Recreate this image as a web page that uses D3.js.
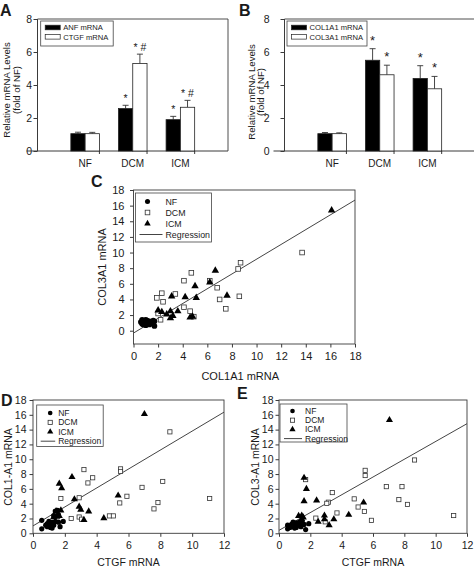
<!DOCTYPE html>
<html><head><meta charset="utf-8">
<script src="https://cdn.jsdelivr.net/npm/d3@7"></script>
<style>
body{margin:0;background:#fff}
svg{display:block}
text{font-family:"Liberation Sans",Arial,Helvetica,sans-serif;fill:#1a1a1a}
</style>
</head><body>
<svg id="chart" width="474" height="567"></svg>
<script>
// ---------- Bar chart data (panels A, B) ----------
const groups = ["NF", "DCM", "ICM"];
const barTicks = [0, 2, 4, 6, 8];
const anfVals = [1.05, 2.57, 1.9];
const anfErr = [0.09, 0.2, 0.2];
const ctgfVals = [1.05, 5.3, 2.65];
const ctgfErr = [0.08, 0.57, 0.42];
const col1Vals = [1.05, 5.5, 4.4];
const col1Err = [0.07, 0.7, 0.77];
const col3Vals = [1.05, 4.62, 3.77];
const col3Err = [0.05, 0.58, 0.75];
const annA1 = ["", "*", "*"];
const annA2 = ["", "* #", "* #"];
const annB1 = ["", "*", "*"];
const annB2 = ["", "*", "*"];

// ---------- Scatter data (panels C, D, E) ----------
const scatTicks18 = [0, 2, 4, 6, 8, 10, 12, 14, 16, 18];
const scatTicks12 = [0, 2, 4, 6, 8, 10, 12];
// C: COL1A1 (x) vs COL3A1 (y)
const cNF = [[0.6,1.1],[0.7,0.9],[0.8,1.2],[0.8,0.8],[0.9,1.0],[0.9,1.3],[1.0,0.7],[1.0,1.1],[1.1,0.9],[1.1,1.3],[1.2,1.0],[1.3,1.2],[1.3,0.8],[1.4,1.1],[1.5,1.0],[1.6,1.3],[1.7,1.2],[1.7,0.6],[0.7,1.4],[1.0,1.4]];
const cDCM = [[8.7,8.7],[8.5,7.9],[4.7,7.4],[4.1,6.4],[6.2,6.4],[6.8,5.5],[2.3,4.8],[3.4,4.7],[1.9,4.2],[2.4,3.7],[7.0,4.0],[8.6,4.4],[7.5,2.8],[4.1,3.0],[4.6,2.5],[4.9,1.8],[2.2,1.4],[2.0,2.2],[13.7,10.0]];
const cICM = [[6.65,7.7],[6.2,6.2],[5.0,5.7],[3.1,4.4],[4.2,4.3],[5.1,4.2],[7.6,4.5],[2.0,2.6],[2.3,2.4],[3.0,2.5],[3.6,2.5],[2.7,2.1],[3.2,1.9],[3.0,1.6],[4.6,1.7],[4.8,1.8],[16.1,15.4]];
const cReg = [-0.3, 0.945]; // intercept, slope
// D: CTGF (x) vs COL1A1 (y)
const dNF = [[0.55,1.75],[0.55,0.6],[0.8,1.1],[0.9,1.3],[0.9,0.9],[1.0,1.0],[1.0,1.6],[1.1,0.8],[1.1,1.2],[1.2,0.7],[1.2,1.5],[1.3,1.1],[1.4,1.6],[1.4,3.0],[1.55,3.1],[1.6,2.5],[1.6,1.5],[1.7,0.9],[1.9,1.6],[1.3,2.4]];
const dDCM = [[8.6,13.7],[3.2,8.6],[5.5,8.7],[5.5,8.35],[3.75,7.5],[3.45,6.8],[8.15,7.0],[6.85,6.2],[5.9,5.0],[1.75,4.7],[2.9,4.8],[5.45,4.1],[7.85,4.15],[7.6,3.3],[11.1,4.7],[2.4,2.0],[2.9,2.2],[3.05,1.9],[4.8,2.35],[5.05,2.35]];
const dICM = [[7.0,16.1],[2.45,7.6],[1.65,6.7],[1.8,6.1],[2.6,4.6],[5.35,5.1],[2.9,3.6],[3.0,3.2],[3.5,2.95],[1.45,3.0],[1.75,3.1],[1.5,2.25],[4.45,2.05],[3.2,1.8],[1.3,2.2],[1.65,2.35]];
const dReg = [1.0, 1.28];
// E: CTGF (x) vs COL3A1 (y)
const eNF = [[0.55,1.1],[0.55,0.6],[0.7,0.8],[0.8,1.2],[0.9,0.9],[1.0,1.3],[1.0,1.0],[1.1,1.4],[1.1,0.8],[1.2,1.1],[1.2,1.3],[1.3,1.2],[1.4,0.9],[1.5,1.4],[1.6,1.2],[1.7,0.5],[1.9,1.3],[0.9,1.5],[1.3,1.5],[1.0,0.7]];
const eDCM = [[8.65,9.9],[5.5,8.5],[5.5,7.8],[1.7,7.25],[3.4,5.5],[3.15,4.2],[3.05,4.05],[6.85,6.3],[7.85,6.3],[4.8,4.65],[7.65,4.55],[8.2,3.9],[5.05,3.55],[5.45,2.95],[3.7,2.75],[2.35,2.05],[2.95,1.55],[5.9,1.75],[11.15,2.4]];
const eICM = [[7.05,15.3],[1.6,7.5],[1.75,6.0],[1.6,4.35],[2.4,4.45],[5.4,4.15],[2.9,2.4],[2.9,1.9],[3.5,1.9],[4.45,2.5],[2.5,1.55],[3.2,1.1],[1.25,2.35],[1.45,2.4],[1.55,2.15],[1.45,1.95]];
const eReg = [0.4, 1.2];

const svg = d3.select("#chart");
const AX = "#3a3a3a";

// ---------- Bar panels ----------
function barPanel(cfg) {
  const g = svg.append("g");
  const x = d3.scaleLinear().domain([0, 4]).range([cfg.x0, cfg.x0 + 190.5]);
  const y = d3.scaleLinear().domain([0, 8]).range([151, 19]);
  const bw = 0.3;
  g.append("path").attr("d", `M${x(0)},${y(8)}H${x(4)}V${y(0)}`)
    .attr("fill", "none").attr("stroke", AX).attr("stroke-width", 0.9);
  const ya = g.append("g").attr("transform", `translate(${x(0)},0)`)
    .call(d3.axisLeft(y).tickValues(barTicks).tickSize(4).tickPadding(cfg.pad).tickFormat(d3.format("d")));
  ya.selectAll("path,line").attr("stroke", AX);
  ya.select(".domain").attr("d", `M0,${y(0)}V${y(8)}`);
  ya.selectAll("text").attr("font-size", 10.5).attr("font-family", "Liberation Sans, Arial");
  const xa = g.append("g").attr("transform", `translate(0,${y(0)})`);
  xa.append("line").attr("x1", x(0) - 11).attr("x2", x(4)).attr("stroke", AX);
  xa.selectAll("line.t").data(groups).join("line").attr("class", "t")
    .attr("x1", (d, i) => x(i + 1 + bw)).attr("x2", (d, i) => x(i + 1 + bw))
    .attr("y1", 0).attr("y2", 3).attr("stroke", AX);
  xa.selectAll("text").data(groups).join("text")
    .attr("x", (d, i) => x(i + 1)).attr("y", 16).attr("text-anchor", "middle")
    .attr("font-size", 10).text(d => d);
  const series = [
    {v: cfg.v1, e: cfg.e1, fill: "#000", off: -bw, ann: cfg.ann1},
    {v: cfg.v2, e: cfg.e2, fill: "#fff", off: 0, ann: cfg.ann2}
  ];
  series.forEach(s => {
    groups.forEach((gname, i) => {
      const cx = i + 1 + s.off + bw / 2;
      const top = s.v[i] + s.e[i];
      g.append("line").attr("x1", x(cx)).attr("x2", x(cx)).attr("y1", y(s.v[i])).attr("y2", y(top))
        .attr("stroke", "#333").attr("stroke-width", 0.9);
      g.append("line").attr("x1", x(cx) - 3).attr("x2", x(cx) + 3).attr("y1", y(top)).attr("y2", y(top))
        .attr("stroke", "#333").attr("stroke-width", 0.9);
      g.append("rect").attr("x", x(i + 1 + s.off)).attr("width", x(bw) - x(0))
        .attr("y", y(s.v[i])).attr("height", y(0) - y(s.v[i]))
        .attr("fill", s.fill).attr("stroke", "#222").attr("stroke-width", 0.8);
      if (s.ann[i]) {
        g.append("text").attr("x", x(cx)).attr("y", y(top) - cfg.annOff)
          .attr("text-anchor", "middle").attr("font-size", cfg.annSize).text(s.ann[i]);
      }
    });
  });
  const lg = g.append("g");
  lg.append("rect").attr("x", cfg.lx).attr("y", 21).attr("width", cfg.lw).attr("height", 25)
    .attr("fill", "#fff").attr("stroke", "#444").attr("stroke-width", 0.8);
  [[cfg.name1, "#000"], [cfg.name2, "#fff"]].forEach((it, k) => {
    const yy = 27.5 + k * 9.3;
    lg.append("rect").attr("x", cfg.lx + 4.5).attr("y", yy - 2.3).attr("width", 15).attr("height", 4.6)
      .attr("fill", it[1]).attr("stroke", "#222").attr("stroke-width", 0.7);
    lg.append("text").attr("x", cfg.lx + 22.5).attr("y", yy + 2.7).attr("font-size", 7.6).text(it[0]);
  });
  const yl = g.append("text").attr("transform", `translate(${cfg.ylx},${cfg.yly}) rotate(-90)`)
    .attr("text-anchor", "middle").attr("font-size", 9.6);
  yl.append("tspan").attr("x", 0).attr("y", 0).text("Relative mRNA Levels");
  yl.append("tspan").attr("x", 0).attr("y", 9.5).text("(fold of NF)");
  svg.append("text").attr("x", cfg.px).attr("y", 15.5).attr("font-size", 16).attr("font-weight", "bold").text(cfg.letter);
}

barPanel({x0: 37.5, pad: 1.5, v1: anfVals, e1: anfErr, v2: ctgfVals, e2: ctgfErr,
  ann1: annA1, ann2: annA2, annOff: 3, annSize: 10.5, lx: 40.7, lw: 72.5,
  name1: "ANF mRNA", name2: "CTGF mRNA", ylx: 10, yly: 90, px: 0, letter: "A"});
barPanel({x0: 284.5, pad: 11, v1: col1Vals, e1: col1Err, v2: col3Vals, e2: col3Err,
  ann1: annB1, ann2: annB2, annOff: 4, annSize: 13, lx: 287, lw: 80,
  name1: "COL1A1 mRNA", name2: "COL3A1 mRNA", ylx: 254.5, yly: 92, px: 239, letter: "B"});

// ---------- Scatter panels ----------
function scatterPanel(cfg) {
  const g = svg.append("g");
  const x = d3.scaleLinear().domain(cfg.xd).range(cfg.xr);
  const y = d3.scaleLinear().domain(cfg.yd).range(cfg.yr);
  g.append("rect").attr("x", cfg.xr[0]).attr("y", cfg.yr[1]).attr("width", cfg.xr[1] - cfg.xr[0])
    .attr("height", cfg.yr[0] - cfg.yr[1]).attr("fill", "none").attr("stroke", AX).attr("stroke-width", 0.9);
  const xa = g.append("g").attr("transform", `translate(0,${cfg.yr[0]})`)
    .call(d3.axisBottom(x).tickValues(cfg.xt).tickSize(3.5).tickPadding(cfg.tp).tickFormat(d3.format("d")));
  xa.select(".domain").remove();
  xa.selectAll("line").attr("stroke", AX);
  xa.selectAll("text").attr("font-size", cfg.fs).attr("font-family", "Liberation Sans, Arial");
  const ya = g.append("g").attr("transform", `translate(${cfg.xr[0]},0)`)
    .call(d3.axisLeft(y).tickValues(cfg.yt).tickSize(3.5).tickPadding(cfg.yp).tickFormat(d3.format("d")));
  ya.select(".domain").remove();
  ya.selectAll("line").attr("stroke", AX);
  ya.selectAll("text").attr("font-size", cfg.fs).attr("font-family", "Liberation Sans, Arial");
  const [b0, b1] = cfg.reg;
  g.append("line").attr("x1", x(cfg.xd[0])).attr("y1", y(b0 + b1 * cfg.xd[0]))
    .attr("x2", x(cfg.xd[1])).attr("y2", y(b0 + b1 * cfg.xd[1]))
    .attr("stroke", "#444").attr("stroke-width", 1);
  const tri = d3.symbol().type(d3.symbolTriangle).size(cfg.ms * 5.2)();
  g.selectAll("rect.dcm").data(cfg.dcm).join("rect").attr("class", "dcm")
    .attr("x", d => x(d[0]) - cfg.ms / 2).attr("y", d => y(d[1]) - cfg.ms / 2)
    .attr("width", cfg.ms).attr("height", cfg.ms)
    .attr("fill", "#fff").attr("stroke", "#333").attr("stroke-width", 0.8);
  g.selectAll("path.icm").data(cfg.icm).join("path").attr("class", "icm")
    .attr("transform", d => `translate(${x(d[0])},${y(d[1])})`).attr("d", tri).attr("fill", "#000");
  g.selectAll("circle.nf").data(cfg.nf).join("circle").attr("class", "nf")
    .attr("cx", d => x(d[0])).attr("cy", d => y(d[1])).attr("r", cfg.ms * 0.62).attr("fill", "#000");
  const L = cfg.leg;
  g.append("rect").attr("x", L.x).attr("y", L.y).attr("width", L.w).attr("height", L.h)
    .attr("fill", "#fff").attr("stroke", "#444").attr("stroke-width", 0.8);
  const names = ["NF", "DCM", "ICM", "Regression"];
  names.forEach((n, k) => {
    const yy = L.y + L.first + k * L.step;
    const mx = L.x + L.mx;
    if (k === 0) g.append("circle").attr("cx", mx).attr("cy", yy).attr("r", cfg.ms * 0.55).attr("fill", "#000");
    if (k === 1) g.append("rect").attr("x", mx - cfg.ms / 2).attr("y", yy - cfg.ms / 2).attr("width", cfg.ms).attr("height", cfg.ms)
      .attr("fill", "#fff").attr("stroke", "#333").attr("stroke-width", 0.8);
    if (k === 2) g.append("path").attr("transform", `translate(${mx},${yy})`).attr("d", d3.symbol().type(d3.symbolTriangle).size(cfg.ms * 4)()).attr("fill", "#000");
    if (k === 3) g.append("line").attr("x1", L.x + 4).attr("x2", L.x + L.tx - 3).attr("y1", yy).attr("y2", yy).attr("stroke", "#444");
    g.append("text").attr("x", L.x + L.tx).attr("y", yy + 3).attr("font-size", L.fs).text(n);
  });
  g.append("text").attr("x", (cfg.xr[0] + cfg.xr[1]) / 2 + cfg.xlOff).attr("y", cfg.xly)
    .attr("text-anchor", "middle").attr("font-size", cfg.lfs).text(cfg.xlab);
  g.append("text").attr("transform", `translate(${cfg.ylx},${cfg.yly}) rotate(-90)`)
    .attr("text-anchor", "middle").attr("font-size", cfg.lfs).text(cfg.ylab);
  svg.append("text").attr("x", cfg.lt[0]).attr("y", cfg.lt[1]).attr("font-size", 16).attr("font-weight", "bold").text(cfg.letter);
}

scatterPanel({xd: [0, 18], xr: [133.5, 355], yd: [-1.7, 18], yr: [344, 190],
  xt: scatTicks18, yt: scatTicks18, fs: 11, tp: 5, yp: 5.5, reg: cReg, ms: 4.6,
  nf: cNF, dcm: cDCM, icm: cICM,
  leg: {x: 135.5, y: 193, w: 76, h: 49, first: 8.5, step: 11, mx: 12, tx: 30, fs: 8.8},
  xlab: "COL1A1 mRNA", xly: 380, xlOff: -4, ylab: "COL3A1 mRNA", ylx: 106, yly: 267, lfs: 11,
  letter: "C", lt: [91, 187]});
scatterPanel({xd: [0, 12], xr: [33, 224], yd: [0, 18], yr: [533.3, 400],
  xt: scatTicks12, yt: scatTicks18, fs: 10.5, tp: 5, yp: 3, reg: dReg, ms: 4.2,
  nf: dNF, dcm: dDCM, icm: dICM,
  leg: {x: 36.7, y: 405, w: 66.5, h: 41.5, first: 8, step: 9.4, mx: 13.5, tx: 21.5, fs: 8.5},
  xlab: "CTGF mRNA", xly: 565.5, xlOff: 0, ylab: "COL1-A1 mRNA", ylx: 12, yly: 467, lfs: 10.5,
  letter: "D", lt: [1, 406]});
scatterPanel({xd: [0, 12], xr: [279, 467], yd: [0, 18], yr: [533.3, 400],
  xt: scatTicks12, yt: scatTicks18, fs: 10.5, tp: 5, yp: 2, reg: eReg, ms: 4.2,
  nf: eNF, dcm: eDCM, icm: eICM,
  leg: {x: 280, y: 404, w: 67, h: 38, first: 7, step: 9.2, mx: 12.5, tx: 25, fs: 8.5},
  xlab: "CTGF mRNA", xly: 565.5, xlOff: 0, ylab: "COL3-A1 mRNA", ylx: 258.5, yly: 467, lfs: 10.5,
  letter: "E", lt: [237, 399]});
</script>
</body></html>
